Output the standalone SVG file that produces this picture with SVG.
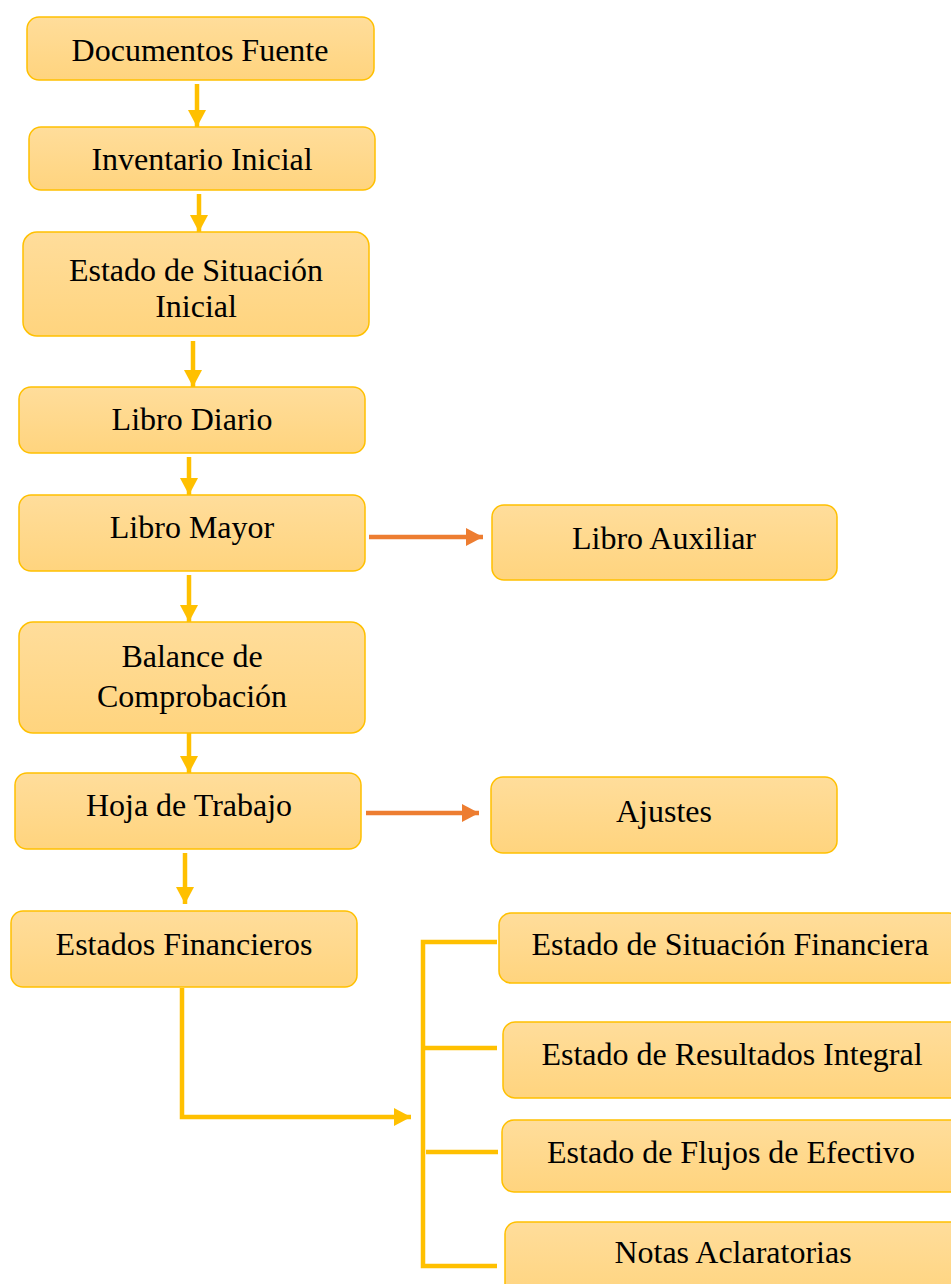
<svg xmlns="http://www.w3.org/2000/svg" width="951" height="1284" viewBox="0 0 951 1284">
<defs>
<linearGradient id="g" x1="0" y1="0" x2="0" y2="1">
<stop offset="0" stop-color="#FFDD9B"/>
<stop offset="1" stop-color="#FFD47E"/>
</linearGradient>
<marker id="ay" markerUnits="userSpaceOnUse" markerWidth="20" markerHeight="20" refX="17" refY="9" orient="auto" overflow="visible">
<path d="M0,0 L17,9 L0,18 z" fill="#FFC000"/>
</marker>
<marker id="ao" markerUnits="userSpaceOnUse" markerWidth="20" markerHeight="20" refX="17" refY="9" orient="auto" overflow="visible">
<path d="M0,0 L17,9 L0,18 z" fill="#ED7D31"/>
</marker>
</defs>
<style>
.n rect{fill:url(#g);stroke:#FFC000;stroke-width:1.5}
.n text{font-family:'Liberation Serif','Times New Roman',serif;font-size:32px;fill:#000;text-anchor:middle}
.y{stroke:#FFC000;stroke-width:4.5;fill:none}
.o{stroke:#ED7D31;stroke-width:4.5;fill:none}
</style>
<rect width="951" height="1284" fill="#fff"/>
<g id="connectors">
<line class="y" x1="197" y1="84" x2="197" y2="127" marker-end="url(#ay)"/>
<line class="y" x1="199" y1="194" x2="199" y2="232" marker-end="url(#ay)"/>
<line class="y" x1="193" y1="341" x2="193" y2="387" marker-end="url(#ay)"/>
<line class="y" x1="189" y1="457" x2="189" y2="495" marker-end="url(#ay)"/>
<line class="y" x1="189" y1="575" x2="189" y2="622" marker-end="url(#ay)"/>
<line class="y" x1="189" y1="733" x2="189" y2="773" marker-end="url(#ay)"/>
<line class="y" x1="185" y1="853" x2="185" y2="904" marker-end="url(#ay)"/>
<line class="o" x1="369" y1="537" x2="483" y2="537" marker-end="url(#ao)"/>
<line class="o" x1="366" y1="813" x2="479" y2="813" marker-end="url(#ao)"/>
<path class="y" d="M182,988 V1117 H411" marker-end="url(#ay)"/>
<path class="y" d="M497,942 H423 V1266 H497"/>
<line class="y" x1="423" y1="1048" x2="497" y2="1048"/>
<line class="y" x1="426" y1="1152" x2="498" y2="1152"/>
</g>
<g font-family="Liberation Serif, serif">
<g id="n1" class="n"><rect x="27" y="17" width="347" height="63" rx="12"/><text x="200" y="61">Documentos Fuente</text></g>
<g id="n2" class="n"><rect x="29" y="127" width="346" height="63" rx="12"/><text x="202" y="170">Inventario Inicial</text></g>
<g id="n3" class="n"><rect x="23" y="232" width="346" height="104" rx="14"/><text x="196" y="281">Estado de Situación</text><text x="196" y="317">Inicial</text></g>
<g id="n4" class="n"><rect x="19" y="387" width="346" height="66" rx="12"/><text x="192" y="430">Libro Diario</text></g>
<g id="n5" class="n"><rect x="19" y="495" width="346" height="76" rx="12"/><text x="192" y="538">Libro Mayor</text></g>
<g id="n6" class="n"><rect x="492" y="505" width="345" height="75" rx="12"/><text x="664" y="549">Libro Auxiliar</text></g>
<g id="n7" class="n"><rect x="19" y="622" width="346" height="111" rx="14"/><text x="192" y="667">Balance de</text><text x="192" y="707">Comprobación</text></g>
<g id="n8" class="n"><rect x="15" y="773" width="346" height="76" rx="12"/><text x="189" y="816">Hoja de Trabajo</text></g>
<g id="n9" class="n"><rect x="491" y="777" width="346" height="76" rx="12"/><text x="664" y="822">Ajustes</text></g>
<g id="n10" class="n"><rect x="11" y="911" width="346" height="76" rx="12"/><text x="184" y="955">Estados Financieros</text></g>
<g id="n11" class="n"><rect x="499" y="913" width="462" height="70" rx="12"/><text x="730" y="955">Estado de Situación Financiera</text></g>
<g id="n12" class="n"><rect x="503" y="1022" width="460" height="76" rx="12"/><text x="732" y="1065">Estado de Resultados Integral</text></g>
<g id="n13" class="n"><rect x="502" y="1120" width="460" height="72" rx="12"/><text x="731" y="1163">Estado de Flujos de Efectivo</text></g>
<g id="n14" class="n"><rect x="505" y="1222" width="460" height="80" rx="12"/><text x="733" y="1263">Notas Aclaratorias</text></g>
</g>
</svg>
